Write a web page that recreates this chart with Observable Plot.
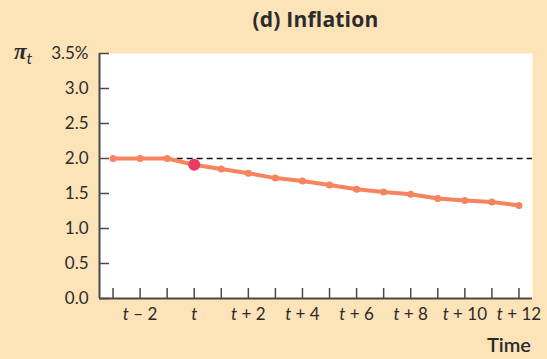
<!DOCTYPE html>
<html><head><meta charset="utf-8">
<script src="https://cdn.jsdelivr.net/npm/d3@7"></script>
<script src="https://cdn.jsdelivr.net/npm/@observablehq/plot@0.6"></script>
<style>
body{margin:0;background:#fde3b8;}
#wrap{position:relative;width:547px;height:359px;background:#fde3b8;font-family:Lato,"Open Sans",sans-serif;color:#2b2b2b;overflow:hidden}
#title{position:absolute;left:99px;width:433px;top:6px;text-align:center;font-weight:700;font-size:21px;line-height:26px;font-family:"Open Sans",sans-serif;letter-spacing:0.2px;}
#ylab{position:absolute;left:14px;top:40px;font-size:23px;font-weight:700;font-style:italic;line-height:24px;font-family:"Liberation Serif",serif;}
#ylab sub{font-size:16px;font-weight:400;vertical-align:-5px;font-family:Lato,sans-serif;}
#xlab{position:absolute;right:16px;top:332px;font-size:20px;font-weight:600;line-height:24px;}
#chart svg{position:absolute;left:0;top:0;}
#chart g[aria-label="y-axis tick label"], #chart g[aria-label="x-axis tick label"]{font-size:17px;}
</style></head><body>
<div id="wrap">
<div id="chart"></div>
<div id="title">(d) Inflation</div>
<div id="ylab">π<sub>t</sub></div>
<div id="xlab">Time</div>
</div>
<script>
const periods = [-3,-2,-1,0,1,2,3,4,5,6,7,8,9,10,11,12];
const inflation = [2.0,2.0,2.0,1.91,1.85,1.79,1.72,1.68,1.62,1.56,1.52,1.49,1.43,1.40,1.38,1.33];
const target = 2.0;
const shockPeriod = 0;
const targetStart = -1;
const yTicks = [0,0.5,1.0,1.5,2.0,2.5,3.0,3.5];
const yTickLabels = ["0.0","0.5","1.0","1.5","2.0","2.5","3.0","3.5%"];
const xLabelTicks = [-2,0,2,4,6,8,10,12];
const xTickLabels = ["t – 2","t","t + 2","t + 4","t + 6","t + 8","t + 10","t + 12"];

const data = periods.map((p,i)=>({p, v: inflation[i]}));
const lineColor = "#f6845e";
const axisColor = "#4a4a4a";

const chart = Plot.plot({
  width: 547, height: 359,
  marginLeft: 99, marginRight: 15, marginTop: 53, marginBottom: 61,
  style: {background: "transparent", fontFamily: "Lato, 'Open Sans', sans-serif", fontSize: "16px", color: "#2b2b2b"},
  x: {domain: [-3.5, 12.5]},
  y: {domain: [0, 3.5]},
  marks: [
    Plot.frame({fill: "white", stroke: "none"}),
    Plot.axisY(yTicks, {tickSize: -10, tickPadding: 21, stroke: axisColor, strokeWidth: 1.5,
      tickFormat: (d) => yTickLabels[yTicks.indexOf(d)], label: null, fill: "#2b2b2b"}),
    Plot.axisX(periods, {tickSize: -10, stroke: axisColor, strokeWidth: 1.5, tickFormat: () => "", label: null}),
    Plot.axisX(xLabelTicks, {tickSize: 0, tickPadding: 9, tickFormat: (d) => xTickLabels[xLabelTicks.indexOf(d)], label: null, fill: "#2b2b2b"}),
    Plot.ruleY([target], {x1: targetStart, x2: 12.5, stroke: "#111", strokeWidth: 1.3, strokeDasharray: "6,4"}),
    Plot.ruleX([-3.5], {stroke: axisColor, strokeWidth: 2}),
    Plot.ruleY([0], {stroke: axisColor, strokeWidth: 2}),
    Plot.line(data, {x: "p", y: "v", stroke: lineColor, strokeWidth: 4}),
    Plot.dot(data, {x: "p", y: "v", fill: lineColor, r: 3.5}),
    Plot.dot(data.filter(d => d.p === shockPeriod), {x: "p", y: "v", fill: "#ea3b5e", r: 6})
  ]
});
document.getElementById("chart").appendChild(chart);
chart.querySelectorAll('g[aria-label="x-axis tick label"] text').forEach(t => {
  const s = t.textContent;
  if (s.startsWith("t")) {
    t.textContent = "";
    const ts = document.createElementNS("http://www.w3.org/2000/svg", "tspan");
    ts.setAttribute("font-style", "italic");
    ts.textContent = "t";
    t.appendChild(ts);
    if (s.length > 1) t.appendChild(document.createTextNode(s.slice(1)));
  }
});
</script>
</body></html>
